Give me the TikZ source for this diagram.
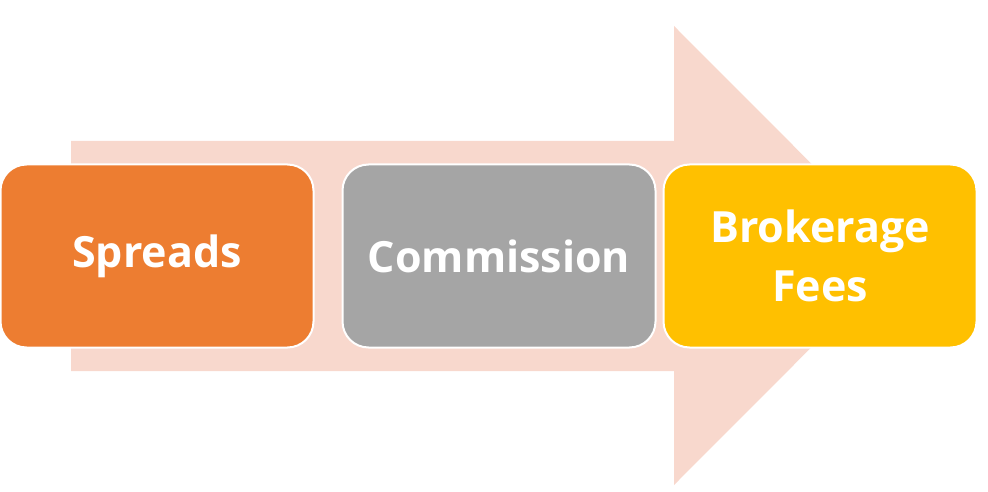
\documentclass[tikz,border=0pt]{standalone}
\usepackage{fontspec}
\setmainfont{Open Sans}
\definecolor{arrowpink}{HTML}{F8D8CD}
\definecolor{orangebox}{HTML}{ED7D31}
\definecolor{graybox}{HTML}{A5A5A5}
\definecolor{yellowbox}{HTML}{FFC000}
\begin{document}
\begin{tikzpicture}[x=1pt,y=-1pt,
  card/.style={draw=white, line width=2pt, rounded corners=26pt, minimum width=313pt, minimum height=183pt, inner sep=0pt, align=center, text=white, font=\bfseries\fontsize{43}{59}\selectfont}]
\useasboundingbox (0,0) rectangle (988,492);
\fill[arrowpink] (71,141) -- (674,141) -- (674,26) -- (903,255.5) -- (674,485) -- (674,371) -- (71,371) -- cycle;
\node[card, fill=orangebox] (spreads) at (157,256) {Spreads};
\node[card, fill=graybox] (commission) at (499,256) {Commission};
\node[card, fill=yellowbox] (brokerage) at (820,256) {Brokerage\\Fees};
\end{tikzpicture}
\end{document}
